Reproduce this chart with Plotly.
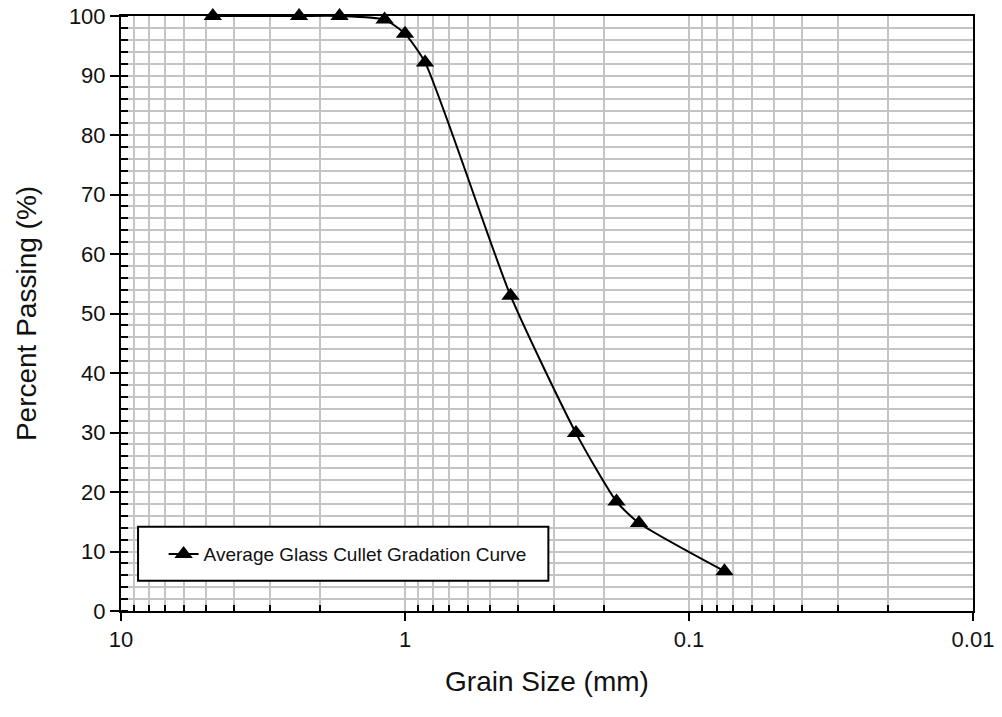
import plotly.graph_objects as go

# Sieve openings (mm) and cumulative percent passing
grain_size_mm = [4.75, 2.36, 1.70, 1.18, 1.00, 0.85, 0.425, 0.25, 0.18, 0.15, 0.075]
percent_passing = [100.0, 100.0, 100.0, 99.4, 97.0, 92.2, 53.0, 29.9, 18.4, 14.8, 6.7]

x_tick_vals = [10, 1, 0.1, 0.01]
x_tick_text = ["10", "1", "0.1", "0.01"]
y_tick_vals = [0, 10, 20, 30, 40, 50, 60, 70, 80, 90, 100]

series_name = "Average Glass Cullet Gradation Curve"

FONT = "Liberation Sans, Arial, sans-serif"
GRID = "#c4c4c4"
INK = "#111111"

# minor log positions 2..9 within each decade
x_minor_vals = [m * d for d in (0.01, 0.1, 1) for m in range(2, 10)]

fig = go.Figure()
fig.add_trace(go.Scatter(
    x=grain_size_mm,
    y=percent_passing,
    mode="lines+markers",
    name=series_name,
    line=dict(color="black", width=2, shape="spline", smoothing=0.6),
    marker=dict(symbol="triangle-up", size=16, color="black"),
    cliponaxis=False,
))

fig.update_layout(
    width=1002,
    height=717,
    margin=dict(l=121, r=29, t=16, b=106),
    paper_bgcolor="white",
    plot_bgcolor="white",
    font=dict(family=FONT, color=INK),
    showlegend=True,
    legend=dict(
        x=0.05, y=0.0955, xanchor="left", yanchor="middle",
        bgcolor="rgba(0,0,0,0)", borderwidth=0,
        font=dict(family=FONT, size=19, color=INK),
    ),
    xaxis=dict(
        type="log",
        range=[1, -2],
        tickvals=x_tick_vals,
        ticktext=x_tick_text,
        ticks="outside", ticklen=8, tickwidth=2, tickcolor="black",
        tickfont=dict(family=FONT, size=22, color=INK),
        showline=True, linecolor="black", linewidth=2, mirror=True,
        showgrid=True, gridcolor=GRID, gridwidth=1.5,
        minor=dict(tickvals=x_minor_vals, ticks="inside", ticklen=6,
                   tickwidth=2, tickcolor="black",
                   showgrid=True, gridcolor=GRID, gridwidth=1.5),
        zeroline=False,
        automargin=False,
        title=dict(text="Grain Size (mm)", font=dict(family=FONT, size=28, color=INK),
                   standoff=20),
    ),
    yaxis=dict(
        range=[0, 100],
        tickvals=y_tick_vals,
        ticks="outside", ticklen=9, tickwidth=2, tickcolor="black",
        tickfont=dict(family=FONT, size=22, color=INK),
        showline=True, linecolor="black", linewidth=2, mirror=True,
        showgrid=True, gridcolor=GRID, gridwidth=1.5,
        minor=dict(dtick=2, ticks="inside", ticklen=7, tickwidth=2,
                   tickcolor="black", showgrid=True, gridcolor=GRID, gridwidth=1.5),
        zeroline=False,
        automargin=False,
        title=dict(text="Percent Passing (%)", font=dict(family=FONT, size=28, color=INK),
                   standoff=24),
    ),
    yaxis2=dict(
        overlaying="y", side="right", anchor="x",
        range=[0, 100], dtick=10,
        ticks="", showticklabels=False, showgrid=False, zeroline=False,
        showline=False,
        minor=dict(dtick=2, ticks="inside", ticklen=6, tickwidth=2,
                   tickcolor="black", showgrid=False),
    ),
)

# legend frame
fig.add_shape(
    type="rect", xref="paper", yref="paper",
    x0=0.02, x1=0.5016, y0=0.051, y1=0.1417,
    line=dict(color="black", width=2), fillcolor="white", layer="above",
)

fig.write_html("out.html")
